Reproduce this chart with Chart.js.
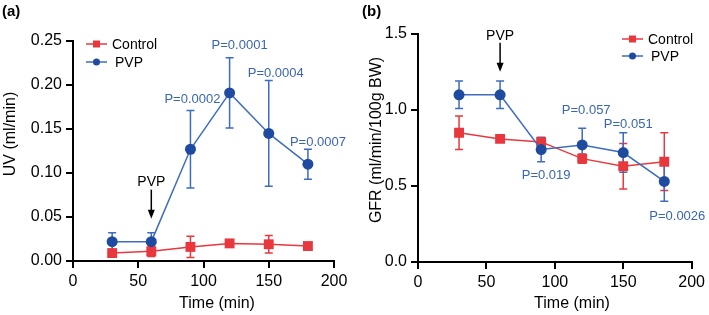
<!DOCTYPE html>
<html>
<head>
<meta charset="utf-8">
<script src="https://cdn.jsdelivr.net/npm/chart.js@4.4.0/dist/chart.umd.min.js"></script>
<style>
html, body { margin: 0; padding: 0; background: #fff; }
.panel { position: absolute; top: 0; width: 354px; height: 315px; }
</style>
</head>
<body>
<div class="panel" style="left:0"><canvas id="uvChart" width="354" height="315"></canvas></div>
<div class="panel" style="left:355px"><canvas id="gfrChart" width="354" height="315"></canvas></div>
<script>
// time points (min) and axis ticks
var time = [30, 60, 90, 120, 150, 180];
var xTicks = [0, 50, 100, 150, 200];
var uvTicks = [0, 0.05, 0.10, 0.15, 0.20, 0.25];
var gfrTicks = [0, 0.5, 1.0, 1.5];

// (a) urine volume
var uvControl = [0.009, 0.011, 0.016, 0.020, 0.019, 0.017];
var uvControlErr = [0.004, 0.006, 0.012, 0.003, 0.010, 0.003];
var uvPvp = [0.022, 0.022, 0.127, 0.191, 0.145, 0.110];
var uvPvpErr = [0.010, 0.010, 0.044, 0.040, 0.060, 0.017];
var uvPvals = [null, null, 'P=0.0002', 'P=0.0001', 'P=0.0004', 'P=0.0007'];

// (b) GFR
var gfrControl = [0.85, 0.81, 0.79, 0.68, 0.63, 0.66];
var gfrControlErr = [0.11, 0.02, 0.02, 0.03, 0.15, 0.19];
var gfrPvp = [1.10, 1.10, 0.74, 0.77, 0.72, 0.53];
var gfrPvpErr = [0.09, 0.09, 0.08, 0.11, 0.13, 0.13];
var gfrPvals = [null, null, 'P=0.019', 'P=0.057', 'P=0.051', 'P=0.0026'];

var RED = '#e8383d';
var BLUE_DOT = '#1e4b9f';
var BLUE_LINE = '#3d6cc0';
var BLUE_TEXT = '#3a66b0';
var FONT = '"Liberation Sans", Arial, Helvetica, sans-serif';

Chart.defaults.font.family = FONT;
Chart.defaults.color = '#000';

function toPoints(ys) {
    return time.map(function (t, i) { return {x: t, y: ys[i]}; });
}

// error bars, drawn under the lines/markers
var errorBarPlugin = {
    id: 'errorBars',
    beforeDatasetsDraw: function (chart) {
        var ctx = chart.ctx;
        var xs = chart.scales.x, ys = chart.scales.y;
        chart.data.datasets.forEach(function (ds) {
            if (!ds.errors) return;
            ctx.save();
            ctx.strokeStyle = ds.errColor;
            ctx.lineWidth = 1.5;
            ds.data.forEach(function (p, i) {
                var x = xs.getPixelForValue(p.x);
                var top = ys.getPixelForValue(p.y + ds.errors[i]);
                var bot = ys.getPixelForValue(Math.max(0, p.y - ds.errors[i]));
                ctx.beginPath();
                ctx.moveTo(x, top); ctx.lineTo(x, bot);
                ctx.moveTo(x - 4, top); ctx.lineTo(x + 4, top);
                ctx.moveTo(x - 4, bot); ctx.lineTo(x + 4, bot);
                ctx.stroke();
            });
            ctx.restore();
        });
    }
};

// P values, PVP arrow, legend, axis titles, panel letter
var decorPlugin = {
    id: 'decor',
    afterDraw: function (chart, args, o) {
        var ctx = chart.ctx;
        var pvpMeta = chart.getDatasetMeta(1);
        ctx.save();

        // p values next to PVP points
        ctx.font = '13px ' + FONT;
        ctx.fillStyle = BLUE_TEXT;
        ctx.textAlign = 'center';
        ctx.textBaseline = 'middle';
        o.pvals.forEach(function (txt, i) {
            if (!txt) return;
            var pt = pvpMeta.data[i];
            ctx.fillText(txt, pt.x + o.pdx[i], pt.y + o.pdy[i]);
        });

        // PVP injection arrow above the 60 min point
        var ap = pvpMeta.data[1];
        ctx.fillStyle = '#000';
        ctx.strokeStyle = '#000';
        ctx.font = '14px ' + FONT;
        ctx.fillText('PVP', ap.x, ap.y - 59);
        ctx.lineWidth = 1.5;
        ctx.beginPath();
        ctx.moveTo(ap.x, ap.y - 52);
        ctx.lineTo(ap.x, ap.y - 30);
        ctx.stroke();
        ctx.beginPath();
        ctx.moveTo(ap.x - 3.5, ap.y - 32);
        ctx.lineTo(ap.x + 3.5, ap.y - 32);
        ctx.lineTo(ap.x, ap.y - 23);
        ctx.closePath();
        ctx.fill();

        // legend
        ctx.textAlign = 'left';
        ctx.font = '14px ' + FONT;
        var lg = o.legend;
        chart.data.datasets.forEach(function (ds, k) {
            var y = lg.y + k * lg.gap;
            ctx.strokeStyle = ds.borderColor;
            ctx.lineWidth = 1.5;
            ctx.beginPath();
            ctx.moveTo(lg.x, y); ctx.lineTo(lg.x + 21, y);
            ctx.stroke();
            ctx.fillStyle = ds.pointBackgroundColor;
            if (ds.pointStyle === 'rect') {
                ctx.fillRect(lg.x + 7, y - 3.5, 7, 7);
            } else {
                ctx.beginPath();
                ctx.arc(lg.x + 10.5, y, 3.5, 0, Math.PI * 2);
                ctx.fill();
            }
            ctx.fillStyle = '#000';
            ctx.fillText(ds.label, lg.x + 26 + (k ? 3 : 0), y + 1);
        });

        // axis titles
        ctx.font = '16px ' + FONT;
        ctx.textAlign = 'center';
        ctx.fillText('Time (min)', o.xTitle.x, o.xTitle.y);
        ctx.translate(o.yTitle.x, o.yTitle.y);
        ctx.rotate(-Math.PI / 2);
        ctx.fillText(o.yTitle.text, 0, 0);
        ctx.setTransform(1, 0, 0, 1, 0, 0);

        // panel letter
        ctx.font = 'bold 15px ' + FONT;
        ctx.textAlign = 'left';
        ctx.fillText(o.letter, o.letterX, 12);
        ctx.restore();
    }
};

function makeChart(id, cfg) {
    return new Chart(document.getElementById(id), {
        type: 'line',
        data: {
            datasets: [{
                label: 'Control',
                data: toPoints(cfg.control),
                errors: cfg.controlErr,
                errColor: RED,
                borderColor: RED,
                borderWidth: 1.5,
                pointStyle: 'rect',
                pointRadius: 7,
                pointBackgroundColor: RED,
                pointBorderColor: RED,
                pointBorderWidth: 0,
                order: 1
            }, {
                label: 'PVP',
                data: toPoints(cfg.pvp),
                errors: cfg.pvpErr,
                errColor: BLUE_LINE,
                borderColor: BLUE_LINE,
                borderWidth: 1.5,
                pointStyle: 'circle',
                pointRadius: 5.5,
                pointBackgroundColor: BLUE_DOT,
                pointBorderColor: BLUE_DOT,
                pointBorderWidth: 0,
                order: 0
            }]
        },
        options: {
            responsive: false,
            animation: false,
            devicePixelRatio: 1,
            layout: {padding: cfg.padding},
            plugins: {
                legend: {display: false},
                tooltip: {enabled: false},
                decor: cfg.decor
            },
            scales: {
                x: {
                    type: 'linear',
                    min: 0, max: 200,
                    afterBuildTicks: function (s) { s.ticks = xTicks.map(function (v) { return {value: v}; }); },
                    afterFit: function (s) { s.height = cfg.xHeight; },
                    ticks: {font: {size: 16}, color: '#000', padding: 4, maxRotation: 0},
                    grid: {drawOnChartArea: false, drawTicks: true, tickLength: 7, color: '#000', lineWidth: 2},
                    border: {display: true, color: '#000', width: 2}
                },
                y: {
                    min: 0, max: cfg.yMax,
                    afterBuildTicks: function (s) { s.ticks = cfg.yTicks.map(function (v) { return {value: v}; }); },
                    afterFit: function (s) { s.width = cfg.yWidth; },
                    ticks: {
                        font: {size: 16}, color: '#000', padding: 4,
                        callback: function (v) { return v.toFixed(cfg.digits); }
                    },
                    grid: {drawOnChartArea: false, drawTicks: true, tickLength: 7, color: '#000', lineWidth: 2},
                    border: {display: true, color: '#000', width: 2}
                }
            }
        },
        plugins: [errorBarPlugin, decorPlugin]
    });
}

makeChart('uvChart', {
    control: uvControl, controlErr: uvControlErr,
    pvp: uvPvp, pvpErr: uvPvpErr,
    yMax: 0.25, yTicks: uvTicks, digits: 2,
    yWidth: 73, xHeight: 54,
    padding: {top: 41, right: 20, left: 0, bottom: 0},
    decor: {
        pvals: uvPvals,
        pdx: [0, 0, 2, 10, 7, 10],
        pdy: [0, 0, -50, -47, -60, -22],
        legend: {x: 86, y: 44, gap: 18},
        xTitle: {x: 217, y: 304},
        yTitle: {x: 11, y: 134, text: 'UV (ml/min)'},
        letter: '(a)', letterX: 2
    }
});

makeChart('gfrChart', {
    control: gfrControl, controlErr: gfrControlErr,
    pvp: gfrPvp, pvpErr: gfrPvpErr,
    yMax: 1.5, yTicks: gfrTicks, digits: 1,
    yWidth: 63, xHeight: 53,
    padding: {top: 34, right: 16, left: 0, bottom: 0},
    decor: {
        pvals: gfrPvals,
        pdx: [0, 0, 5, 4, 5, 13],
        pdy: [0, 0, 26, -35, -28, 35],
        legend: {x: 267, y: 39, gap: 17},
        xTitle: {x: 217, y: 304},
        yTitle: {x: 22, y: 140, text: 'GFR (ml/min/100g BW)'},
        letter: '(b)', letterX: 7
    }
});
</script>
</body>
</html>
